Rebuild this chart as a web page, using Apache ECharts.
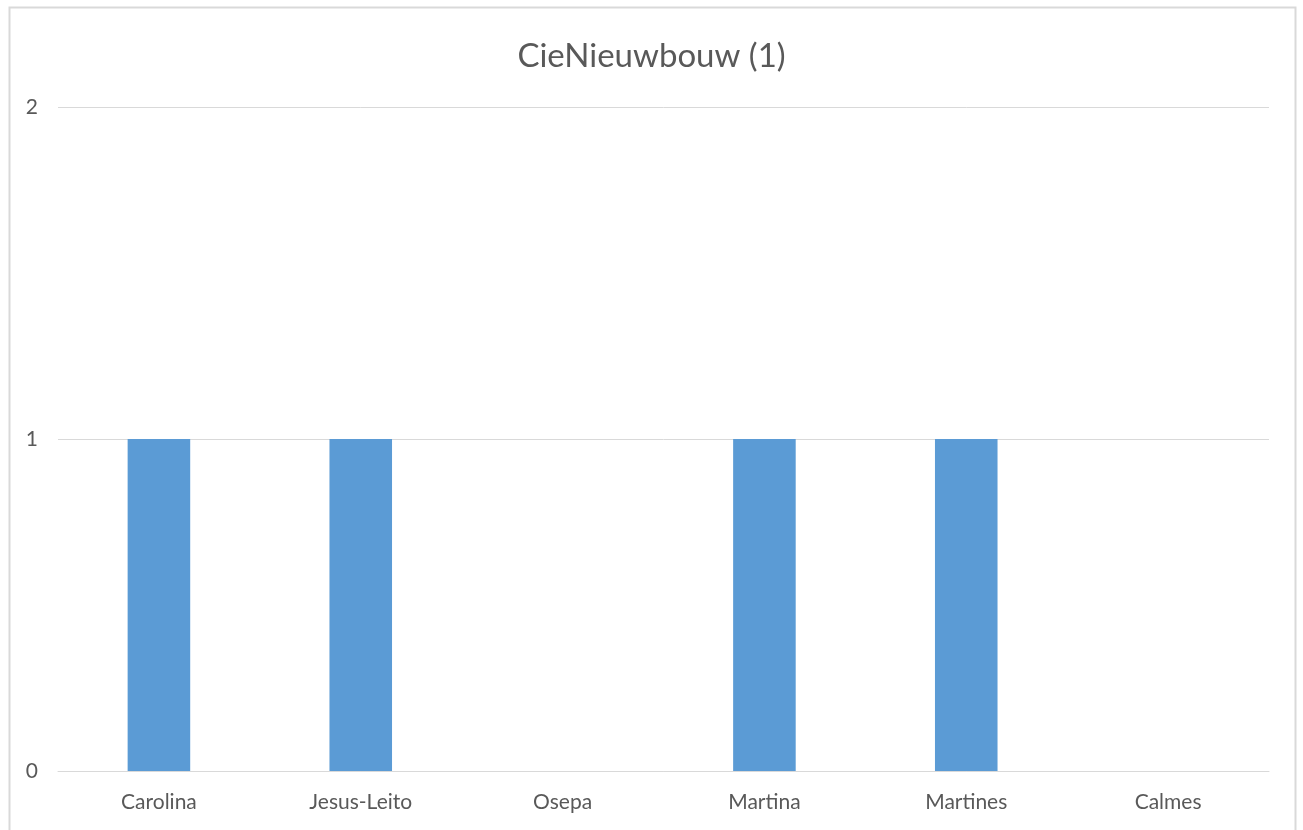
<!DOCTYPE html>
<html><head><meta charset="utf-8">
<script src="https://cdn.jsdelivr.net/npm/echarts@6/dist/echarts.min.js"></script>
<style>html,body{margin:0;padding:0;background:#fff}#c{width:1303px;height:830px}</style>
</head><body><div id="c"></div>
<script>
const title = 'CieNieuwbouw (1)';
const categories = ['Carolina', 'Jesus-Leito', 'Osepa', 'Martina', 'Martines', 'Calmes'];
const values = [1, 1, 0, 1, 1, 0];
const yTicks = [0, 1, 2];

const chart = echarts.init(document.getElementById('c'));
chart.setOption({
  animation: false,
  backgroundColor: '#fff',
  graphic: [{
    type: 'rect', silent: true,
    shape: { x: 9.5, y: 7.5, width: 1286, height: 840 },
    style: { fill: 'none', stroke: '#d9d9d9', lineWidth: 2 }
  }],
  title: {
    text: title, left: 'center', top: 35,
    textStyle: { fontFamily: 'Lato', fontSize: 33, fontWeight: 'normal', color: '#595959' }
  },
  grid: { left: 58, right: 34, top: 107, bottom: 59, containLabel: false },
  xAxis: {
    type: 'category', data: categories,
    axisLine: { show: true, lineStyle: { color: '#d9d9d9', width: 1 } },
    axisTick: { show: false },
    axisLabel: { fontFamily: 'Lato', fontSize: 21, color: '#595959', margin: 21 }
  },
  yAxis: {
    type: 'value', min: yTicks[0], max: yTicks[yTicks.length - 1], interval: 1,
    axisLine: { show: false }, axisTick: { show: false },
    splitLine: { lineStyle: { color: '#d9d9d9', width: 1 } },
    axisLabel: { fontFamily: 'Lato', fontSize: 21, color: '#595959', margin: 20 }
  },
  series: [{
    type: 'bar', data: values, barWidth: '31%',
    itemStyle: { color: '#5b9bd5' }
  }]
});
</script></body></html>
